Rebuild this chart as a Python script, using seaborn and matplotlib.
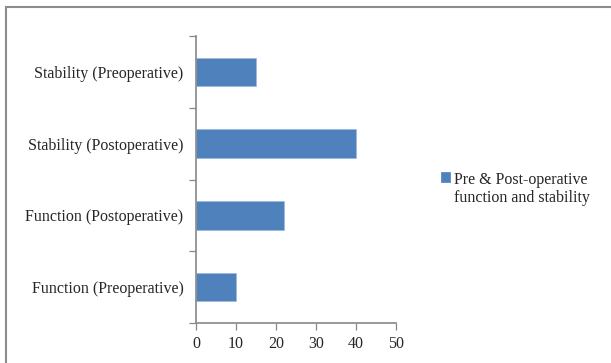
import matplotlib
matplotlib.use("Agg")
import matplotlib.pyplot as plt
from matplotlib.patches import Rectangle
import seaborn as sns
import pandas as pd

categories = [
    "Stability (Preoperative)",
    "Stability (Postoperative)",
    "Function (Postoperative)",
    "Function (Preoperative)",
]
values = [15, 40, 22, 10]
series_name = "Pre & Post-operative\nfunction and stability"
x_ticks = [0, 10, 20, 30, 40, 50]

df = pd.DataFrame({"category": categories, "value": values, "series": series_name})

sns.set_theme(style="white")
plt.rcParams["font.family"] = ["Liberation Serif", "DejaVu Serif"]

fig = plt.figure(figsize=(6.11, 3.63), dpi=100)
ax = fig.add_axes([196 / 611, 1 - 323 / 363, 200 / 611, 287 / 363])

bar_color = "#4F81BD"
axis_color = "#888888"
fs = 11.5

sns.barplot(data=df, x="value", y="category", hue="series", orient="h",
            palette=[bar_color], saturation=1, width=0.4, ax=ax, legend=True,
            edgecolor="#9DB9DC", linewidth=0.5)

ax.set_xlim(0, 50)
ax.set_ylim(3.5, -0.5)
ax.set_xticks(x_ticks)
ax.set_xticklabels([str(t) for t in x_ticks], fontsize=fs)
# category ticks sit on the boundaries between bars
ax.set_yticks([-0.5, 0.5, 1.5, 2.5, 3.5], minor=False)
ax.set_yticklabels([])
ax.set_yticks([0, 1, 2, 3], minor=True)
ax.set_yticklabels(categories, minor=True, fontsize=fs)
ax.tick_params(axis="y", which="minor", length=0, pad=9)
ax.tick_params(axis="y", which="major", length=5, width=0.9, color=axis_color, direction="out", left=True)
ax.tick_params(axis="x", length=5, width=0.9, color=axis_color, direction="out", bottom=True, pad=4)
ax.set_xlabel("")
ax.set_ylabel("")

for side in ("top", "right"):
    ax.spines[side].set_visible(False)
for side in ("left", "bottom"):
    ax.spines[side].set_color(axis_color)
    ax.spines[side].set_linewidth(1.2)

handles, labels = ax.get_legend_handles_labels()
ax.get_legend().remove()
leg = fig.legend(handles, labels, loc="upper left", bbox_to_anchor=(441 / 611, 1 - 172 / 363),
                 frameon=False, fontsize=fs, handlelength=0.55, handleheight=0.55,
                 handletextpad=0.25, borderaxespad=0, borderpad=0)
for t in leg.get_texts():
    t.set_linespacing(1.15)
# keep the marker level with the first line of the label
for row in leg._legend_handle_box.get_children():
    for hp in row.get_children():
        hp.align = "top"
for p in leg.get_patches():
    p.set_edgecolor(bar_color)

# outer chart frame
fig.patches.append(Rectangle((5.5 / 611, -0.05), 1.1, 1 - 6.5 / 363 + 0.05,
                             transform=fig.transFigure, fill=False,
                             edgecolor="#8C8C8C", linewidth=1.5))

fig.savefig("out.png", dpi=100, facecolor="white")
